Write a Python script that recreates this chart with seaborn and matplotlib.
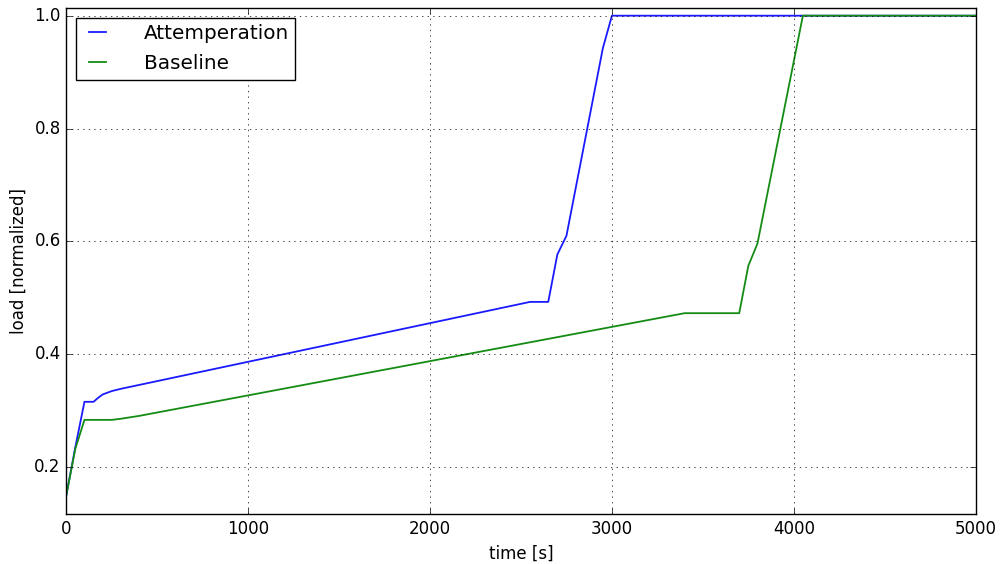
import matplotlib
matplotlib.use("Agg")
import matplotlib.pyplot as plt
import pandas as pd
import seaborn as sns

# Normalized load over time for the two control strategies
att_time = [0, 50, 100, 150, 175, 200, 250, 300, 2550, 2650, 2700, 2750, 2950, 3000, 5000]
att_load = [0.150, 0.236, 0.316, 0.316, 0.323, 0.329, 0.335, 0.339, 0.493, 0.493,
            0.577, 0.610, 0.942, 1.0, 1.0]

base_time = [0, 50, 100, 250, 300, 400, 3400, 3700, 3750, 3800, 4050, 5000]
base_load = [0.150, 0.233, 0.284, 0.284, 0.286, 0.291, 0.473, 0.473, 0.557, 0.596, 1.0, 1.0]

series_names = ["Attemperation", "Baseline"]
x_ticks = [0, 1000, 2000, 3000, 4000, 5000]
y_ticks = [0.2, 0.4, 0.6, 0.8, 1.0]

df = pd.concat([
    pd.DataFrame({"time": att_time, "load": att_load, "series": series_names[0]}),
    pd.DataFrame({"time": base_time, "load": base_load, "series": series_names[1]}),
], ignore_index=True)

plt.style.use("classic")
plt.rcParams.update({
    "figure.facecolor": "white",
    "savefig.facecolor": "white",
    "font.family": ["DejaVu Sans"],
    "font.size": 12,
})

fig = plt.figure(figsize=(10.01, 5.64), dpi=100)
ax = fig.add_axes([0.0662, 0.0881, 0.9085, 0.8977])

sns.lineplot(data=df, x="time", y="load", hue="series", hue_order=series_names,
             palette=["#1a1aff", "#148c14"], estimator=None, sort=False,
             linewidth=1.3, ax=ax)

ax.set_xlim(0, 5000)
ax.set_ylim(0.1167, 1.0136)
ax.set_xticks(x_ticks)
ax.set_yticks(y_ticks)
ax.set_yticklabels([f"{v:.1f}" for v in y_ticks])
ax.set_xlabel("time [s]", fontsize=12)
ax.set_ylabel("load [normalized]", fontsize=12)
ax.grid(True, color="k", linestyle=":", linewidth=0.5)
ax.tick_params(direction="in", top=True, right=True, labelsize=12, length=4)

leg = ax.legend(loc="upper left", fontsize=14.4, frameon=True, fancybox=False,
                shadow=False, borderpad=0.32, handlelength=1.45,
                handletextpad=1.6, labelspacing=0.55, borderaxespad=0.5)
leg.get_frame().set_edgecolor("k")
leg.get_frame().set_linewidth(1.0)
for line in leg.get_lines():
    line.set_linewidth(1.3)

fig.savefig("out.png", dpi=100)
